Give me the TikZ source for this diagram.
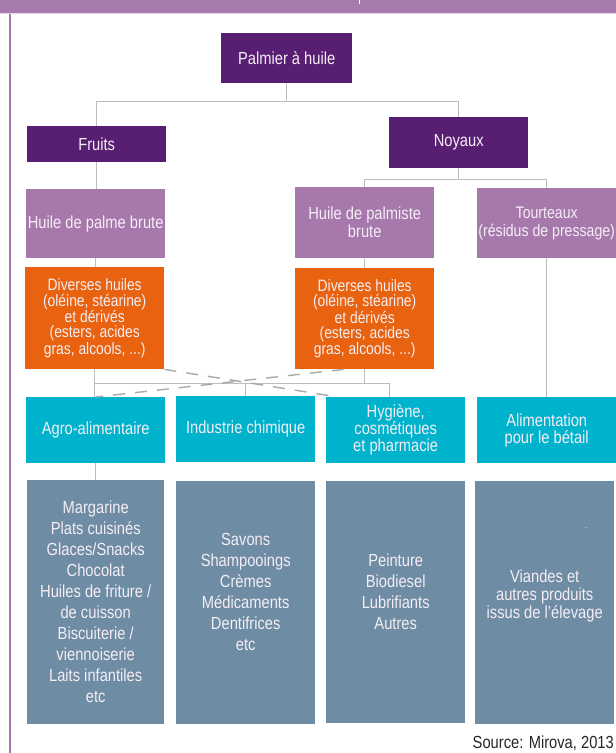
\documentclass[tikz,border=0pt]{standalone}
\usepackage{fontspec}
\setmainfont{Liberation Sans}[FakeStretch=0.84]
\usetikzlibrary{calc}

\definecolor{band}{HTML}{A77AAE}
\definecolor{plumdark}{HTML}{581E72}
\definecolor{plumlight}{HTML}{A678AC}
\definecolor{orangeoil}{HTML}{E8620F}
\definecolor{sectorcyan}{HTML}{00B3CC}
\definecolor{slateuse}{HTML}{6E8CA4}
\definecolor{linegray}{HTML}{BDBDBD}
\definecolor{boxtext}{HTML}{F5EEF5}

\begin{document}
\begin{tikzpicture}[
  x=1pt, y=-1pt,
  font=\fontsize{17.5}{18}\selectfont,
  box/.style={
    anchor=north west,
    inner sep=0pt,
    align=center,
    text=boxtext,
    minimum width=139pt
  },
  stem/.style={box, fill=plumdark},
  crude/.style={box, fill=plumlight, minimum height=70pt},
  refined/.style={box, fill=orangeoil, minimum height=102pt, font=\fontsize{16.5}{15.2}\selectfont},
  sector/.style={box, fill=sectorcyan, minimum height=66pt, font=\fontsize{17.5}{17}\selectfont},
  uses/.style={box, fill=slateuse, minimum height=243pt, font=\fontsize{17.5}{21}\selectfont},
  link/.style={draw=linegray, line width=1.2pt},
  cross/.style={draw=linegray!90!black, line width=1.4pt, dash pattern=on 12pt off 10pt}
]

\useasboundingbox[fill=white] (0,0) rectangle (616,753);
\fill[band] (0,0) rectangle (616,13);
\draw[white!70!band, line width=1pt] (0,13.5) -- (616,13.5);
\draw[white, line width=1pt] (359,0) -- (359,3.5);
\draw[band, line width=1.5pt] (10,14) -- (10,753);

\node[stem, minimum width=131pt, minimum height=50pt] (palm) at (221,33) {Palmier à huile};
\node[stem, minimum height=36pt] (fruit) at (27,126) {Fruits};
\node[stem, minimum height=51pt] (kern) at (389,117) {Noyaux};

\node[crude, minimum height=69pt] (cpo) at (26,189) {Huile de palme brute};
\node[crude, minimum height=71pt] (cpko) at (295,187) {Huile de palmiste\\brute};
\node[crude, font=\fontsize{16.8}{18}\selectfont] (cake) at (477,188) {Tourteaux\\(résidus de pressage)};

\node[refined] (der1) at (25,267) {Diverses huiles\\(oléine, stéarine)\\et dérivés\\(esters, acides\\gras, alcools, ...)};
\node[refined, minimum height=101pt] (der2) at (295,268) {Diverses huiles\\(oléine, stéarine)\\et dérivés\\(esters, acides\\gras, alcools, ...)};

\node[sector] (agro) at (26,397) {Agro-alimentaire};
\node[sector] (chem) at (176,396) {Industrie chimique};
\node[sector] (hyg) at (326,397) {Hygiène,\\cosmétiques\\et pharmacie};
\node[sector] (feed) at (477,397) {Alimentation\\pour le bétail};

\node[uses, minimum width=137pt, minimum height=244pt] (u1) at (27,480) {Margarine\\Plats cuisinés\\Glaces/Snacks\\Chocolat\\Huiles de friture /\\de cuisson\\Biscuiterie /\\viennoiserie\\Laits infantiles\\etc};
\node[uses] (u2) at (176,481) {Savons\\Shampooings\\Crèmes\\Médicaments\\Dentifrices\\etc\\\mbox{}};
\node[uses, minimum height=242pt] (u3) at (326,481) {Peinture\\Biodiesel\\Lubrifiants\\Autres\\\mbox{}};
\node[uses, font=\fontsize{17.5}{18}\selectfont] (u4) at (475,481) {Viandes et\\autres produits\\issus de l’élevage\\\mbox{}};
\node[text=boxtext, inner sep=0pt, font=\fontsize{8}{8}\selectfont] (tick) at (586,529) {-};

\node[anchor=base east, inner sep=0pt, text=black!85] (src) at (614,748) {Source: Mirova, 2013};

\coordinate (bus) at ($(der1.south)+(0,14)$);

\draw[link] (palm.south) -- ++(0,18) -| (fruit.north);
\draw[link] (palm.south) -- ++(0,18) -| (kern.north);
\draw[link] (kern.south) -- ++(0,11) -| (cpko.north);
\draw[link] (kern.south) -- ++(0,11) -| (cake.north);
\foreach \a/\b in {fruit/cpo,cpo/der1,cpko/der2,der1/agro,cake/feed,agro/u1}
  \draw[link] (\a.south) -- (\a.south |- \b.north);
\draw[link] (bus) -| (chem.north);
\draw[link] (bus) -| ($(hyg.north)+(-6,0)$);
\draw[link] (der2.south) -- (der2.south |- bus);

\draw[cross] (der1.south east) -- ($(hyg.north west)+(12,0)$);
\draw[cross] ($(der2.south)+(-21,0)$) -- (agro.north);

\end{tikzpicture}
\end{document}
